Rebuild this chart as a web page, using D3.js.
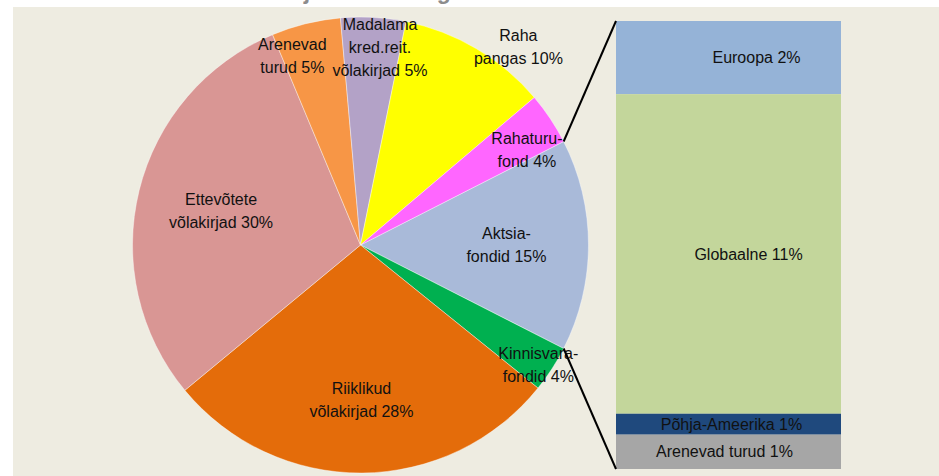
<!DOCTYPE html>
<html>
<head>
<meta charset="utf-8">
<script src="https://cdn.jsdelivr.net/npm/d3@7"></script>
<style>
  body { margin: 0; background: #fff; }
  text { font-family: "Liberation Sans", Arial, sans-serif; }
</style>
</head>
<body>
<script>
// pie slices, clockwise starting from the split-out slice
var pieNames = ["Aktsiafondid", "Kinnisvarafondid", "Riiklikud võlakirjad", "Ettevõtete võlakirjad",
                "Arenevad turud", "Madalama kred.reit. võlakirjad", "Raha pangas", "Rahaturufond"];
var pieValues = [15.0, 3.3, 28.2, 29.7, 4.9, 4.6, 10.6, 3.7];
var pieLabels = [["Aktsia-", "fondid 15%"], ["Kinnisvara-", "fondid 4%"], ["Riiklikud", "võlakirjad 28%"],
                 ["Ettevõtete", "võlakirjad 30%"], ["Arenevad", "turud 5%"],
                 ["Madalama", "kred.reit.", "võlakirjad 5%"], ["Raha", "pangas 10%"], ["Rahaturu-", "fond 4%"]];
var pieColors = ["#a9bad9", "#00b050", "#e46c0a", "#d99694", "#f79646", "#b3a2c7", "#ffff00", "#ff66ff"];

// breakdown of the equity funds slice (top to bottom)
var barNames = ["Euroopa", "Globaalne", "Põhja-Ameerika", "Arenevad turud"];
var barValues = [2.45, 10.7, 0.7, 1.15];
var barLabels = ["Euroopa 2%", "Globaalne 11%", "Põhja-Ameerika 1%", "Arenevad turud 1%"];
var barColors = ["#95b3d7", "#c3d69b", "#1f497d", "#a6a6a6"];

function init(){
    var w = 939, h = 476;
    var svg = d3.select("body").append("svg").attr("width", w).attr("height", h);

    // title, mostly cut off above the chart area
    svg.append("text")
       .attr("x", 38).attr("y", -1)
       .attr("font-size", 23).attr("font-weight", "bold")
       .attr("fill", "#8c8c8c")
       .text("Pensionifondide varade jaotus seisuga 2012");

    svg.append("rect")
       .attr("x", 13).attr("y", 7)
       .attr("width", w - 13).attr("height", h - 7)
       .attr("fill", "#eeece1");

    var cx = 360.5, cy = 245, r = 228;
    var total = d3.sum(pieValues);
    var start = Math.PI / 2 - (pieValues[0] / total) * Math.PI; // split slice centred at 3 o'clock

    var pie = d3.pie().sort(null).startAngle(start).endAngle(start + 2 * Math.PI);
    var arc = d3.arc().innerRadius(0).outerRadius(r);
    var arcs = pie(pieValues);

    var g = svg.append("g").attr("transform", "translate(" + cx + "," + cy + ")");
    g.selectAll("path.slice")
     .data(arcs)
     .enter()
     .append("path")
     .attr("class", "slice")
     .attr("fill", function(d, i){ return pieColors[i]; })
     .attr("stroke", "#ffffff")
     .attr("stroke-width", 0.4)
     .attr("d", arc);

    // label placement: radius factor and angle nudge (degrees)
    var labelPlace = [[0.64, 0], [0.94, 1], [0.68, 0], [0.63, 0], [0.88, -6], [0.87, 2.4], [1.11, 8], [0.84, 4]];
    var lineH = 23;
    var labels = g.selectAll("text.lbl")
     .data(arcs)
     .enter()
     .append("text")
     .attr("class", "lbl")
     .attr("text-anchor", "middle")
     .attr("font-size", 16)
     .attr("fill", "#111")
     .attr("transform", function(d, i){
         var a = (d.startAngle + d.endAngle) / 2 + labelPlace[i][1] * Math.PI / 180;
         var rr = r * labelPlace[i][0];
         return "translate(" + (rr * Math.sin(a)) + "," + (-rr * Math.cos(a)) + ")";
     });
    labels.each(function(d, i){
        var lines = pieLabels[i];
        var t = d3.select(this);
        lines.forEach(function(s, k){
            t.append("tspan")
             .attr("x", 0)
             .attr("y", (k - (lines.length - 1) / 2) * lineH)
             .attr("dy", "0.35em")
             .text(s);
        });
    });

    // stacked bar for the split slice
    var bx = 616, bw = 225;
    var y = d3.scaleLinear().domain([0, d3.sum(barValues)]).range([21, 469]);
    var stackTop = d3.cumsum([0].concat(barValues.slice(0, -1)));
    svg.selectAll("rect.bar")
       .data(barValues)
       .enter()
       .append("rect")
       .attr("class", "bar")
       .attr("x", bx)
       .attr("width", bw)
       .attr("y", function(d, i){ return y(stackTop[i]); })
       .attr("height", function(d){ return y(d) - y(0); })
       .attr("fill", function(d, i){ return barColors[i]; });

    var barLabelDx = [28, 20, 3, -4];
    svg.selectAll("text.barlbl")
       .data(barValues)
       .enter()
       .append("text")
       .attr("class", "barlbl")
       .attr("text-anchor", "middle")
       .attr("font-size", 16)
       .attr("fill", "#111")
       .attr("x", function(d, i){ return bx + bw / 2 + barLabelDx[i]; })
       .attr("y", function(d, i){ return y(stackTop[i] + d / 2); })
       .attr("dy", "0.35em")
       .text(function(d, i){ return barLabels[i]; });

    // connector lines from the split slice edges to the bar corners
    var sa = arcs[0].startAngle, ea = arcs[0].endAngle;
    var conn = [
        [cx + r * Math.sin(sa), cy - r * Math.cos(sa), bx, y(0)],
        [cx + r * Math.sin(ea), cy - r * Math.cos(ea), bx, y(d3.sum(barValues))]
    ];
    svg.selectAll("line.conn")
       .data(conn)
       .enter()
       .append("line")
       .attr("class", "conn")
       .attr("x1", function(d){ return d[0]; })
       .attr("y1", function(d){ return d[1]; })
       .attr("x2", function(d){ return d[2]; })
       .attr("y2", function(d){ return d[3]; })
       .attr("stroke", "#000")
       .attr("stroke-width", 2);
}
window.onload = init;
</script>
</body>
</html>
